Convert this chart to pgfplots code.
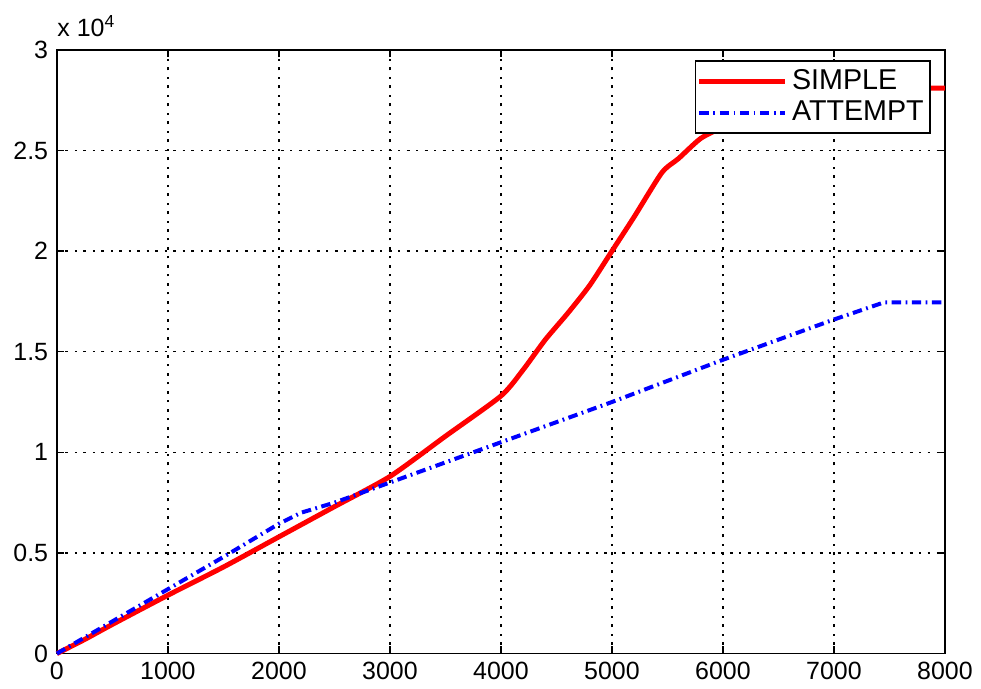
\documentclass[border=0pt]{standalone}
\usepackage{fontspec}
\setmainfont{Liberation Sans}
\usepackage{pgfplots}
\pgfplotsset{compat=1.18}
\begin{document}
\begin{tikzpicture}
\begin{axis}[
  scale only axis,
  width=356pt, height=242pt,
  xmin=0, xmax=8000, ymin=0, ymax=30000,
  xtick={0,1000,...,8000},
  ytick={0,5000,...,30000},
  yticklabels={0,0.5,1,1.5,2,2.5,3},
  scaled x ticks=false, scaled y ticks=false,
  /pgf/number format/assume math mode=true,
  xticklabel style={/pgf/number format/1000 sep={}},
  tick align=inside,
  major tick length=3pt,
  tick style={black, line width=0.6pt},
  axis line style={black, line width=0.6pt},
  xmajorgrids, ymajorgrids,
  grid style={black, line width=0.6pt, dash pattern=on 0.8pt off 2.6pt on 1.2pt off 2.6pt},
  legend style={at={(rel axis cs:0.984,0.983)}, anchor=north east, draw=black, line width=0.6pt,
    font=\fontsize{11.5}{13}\selectfont, row sep=-1pt, inner xsep=0.5pt, inner ysep=1.5pt,
    nodes={inner xsep=2pt}},
  legend cell align=left,
  legend image code/.code={\draw[#1] (0cm,0cm) -- (1.2cm,0cm);},
  clip=false,
]
\addplot[red, line width=2pt, smooth, tension=0.4] coordinates {
(0,0) (250,700) (500,1450) (1000,2900) (1500,4300) (2000,5800) (2500,7300) (3000,8800)
(3500,10800) (4000,12800) (4200,14100) (4400,15600) (4600,16900) (4800,18300) (5000,20000)
(5200,21700) (5450,23900) (5600,24600) (5800,25600) (6000,26150) (6300,26800) (6600,27600)
(7000,28100) (7400,28100) (8000,28100)};
\addlegendentry{SIMPLE}
\addplot[blue, line width=1.6pt, dash pattern=on 3.8pt off 1.8pt on 0.7pt off 1.8pt] coordinates {
(0,0) (500,1600) (1000,3200) (1500,4800) (2000,6450) (2200,7000) (2500,7500) (3000,8500)
(3500,9500) (4000,10500) (5000,12500) (6000,14600) (7000,16600) (7450,17450) (8000,17450)};
\addlegendentry{ATTEMPT}
\node[anchor=south west, inner sep=0pt] at ([yshift=5pt]rel axis cs:0,1) {x 10$^{\mbox{\scriptsize 4}}$};
\end{axis}
\path (current axis.south west) ++(-22.8pt,-13.2pt) (current axis.north east) ++(13.2pt,20pt);
\end{tikzpicture}
\end{document}
